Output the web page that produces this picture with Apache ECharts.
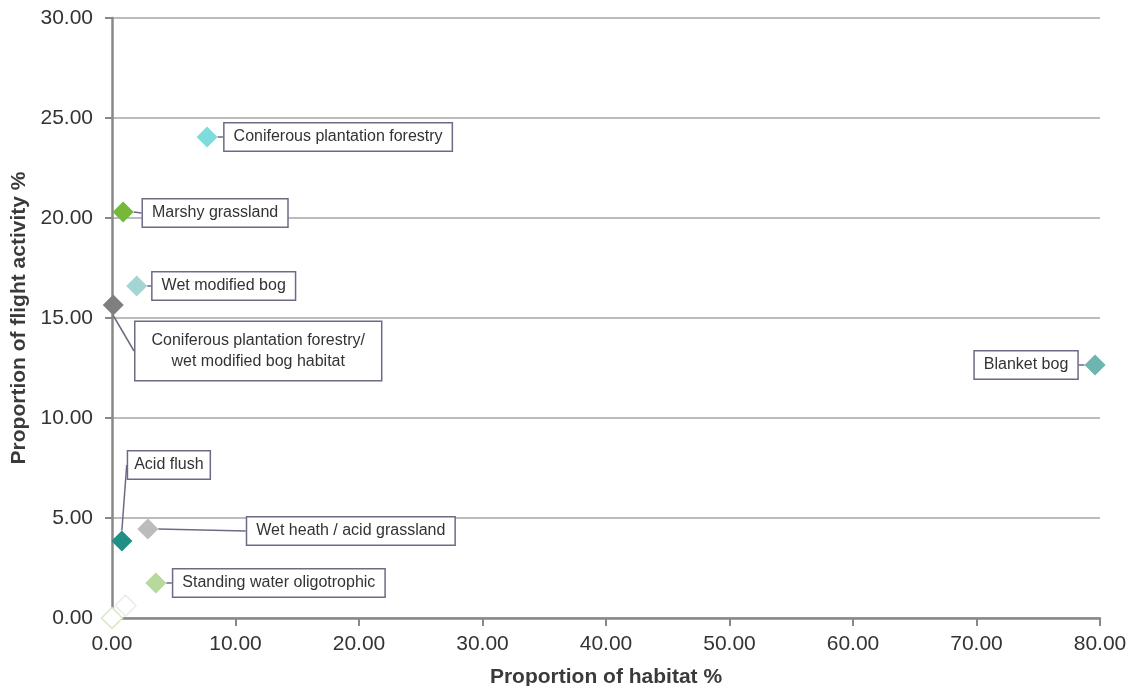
<!DOCTYPE html>
<html>
<head>
<meta charset="utf-8">
<script src="https://cdn.jsdelivr.net/npm/echarts@6/dist/echarts.min.js"></script>
<style>
  html, body { margin: 0; padding: 0; background: #fff; }
  #chart { width: 1135px; height: 686px; }
</style>
</head>
<body>
<div id="chart"></div>
<script>
// Habitat use: share of habitat area vs share of recorded flight activity
const habitats = [
  'Coniferous plantation forestry',
  'Marshy grassland',
  'Wet modified bog',
  'Coniferous plantation forestry/\nwet modified bog habitat',
  'Blanket bog',
  'Acid flush',
  'Wet heath / acid grassland',
  'Standing water oligotrophic',
  '',
  ''
];
const habitatPct = [7.7, 0.9, 2.0, 0.1, 79.6, 0.8, 2.9, 3.55, 1.1, 0.0];
const flightPct  = [24.05, 20.3, 16.6, 15.65, 12.65, 3.85, 4.45, 1.75, 0.62, 0.0];

// marker fill / outline per habitat
const fills   = ['#7fdcdc', '#76b83a', '#a3d6d3', '#7f7f7f', '#6bb6ae', '#1f9086', '#bcbcbc', '#b7d99c', '#ffffff', '#ffffff'];
const borders = [null, null, null, null, null, null, null, null, '#ececec', '#d6e8c8'];

// callout box offset from its marker (px)
const calloutOffset = [
  [131, 0], [92, 1], [87, 0], [145, 46], [-69, 0],
  [47, -76], [203, 2], [123, 0], [0, 0], [0, 0]
];
// callout padding and line height per habitat (two-line box is roomier)
const calloutPadding = [
  [5, 9], [5, 9], [5, 9], [8, 16], [5, 9],
  [5, 6], [5, 9], [5, 9], [5, 9], [5, 9]
];
const calloutLineHeight = [17, 17, 17, 21, 17, 17, 17, 17, 17, 17];

const FONT = '"Liberation Sans", Arial, sans-serif';
const LINE = '#6e6a86';

const points = habitats.map((name, i) => ({
  name: name,
  value: [habitatPct[i], flightPct[i]],
  itemStyle: borders[i]
    ? { color: fills[i], borderColor: borders[i], borderWidth: 1.5, opacity: 1 }
    : { color: fills[i], opacity: 1 },
  label: { show: name !== '', padding: calloutPadding[i], lineHeight: calloutLineHeight[i] }
}));

const chart = echarts.init(document.getElementById('chart'));
chart.setOption({
  animation: false,
  grid: { left: 112, right: 35, top: 18, bottom: 68, containLabel: false, outerBoundsMode: 'none' },
  xAxis: {
    type: 'value', min: 0, max: 80, interval: 10,
    name: 'Proportion of habitat %', nameLocation: 'middle', nameGap: 49,
    nameTextStyle: { fontFamily: FONT, fontSize: 21, fontWeight: 'bold', color: '#3a3a3a' },
    axisLine: { show: true, lineStyle: { color: '#888888', width: 2.5 } },
    axisTick: { show: true, length: 8, lineStyle: { color: '#888888', width: 2 } },
    axisLabel: { margin: 16, fontFamily: FONT, fontSize: 21, color: '#333', formatter: v => v.toFixed(2) },
    splitLine: { show: false }
  },
  yAxis: {
    type: 'value', min: 0, max: 30, interval: 5,
    name: 'Proportion of flight activity %', nameLocation: 'middle', nameGap: 79,
    nameTextStyle: { fontFamily: FONT, fontSize: 21, fontWeight: 'bold', color: '#3a3a3a' },
    axisLine: { show: true, lineStyle: { color: '#888888', width: 2.5 } },
    axisTick: { show: true, length: 7, lineStyle: { color: '#888888', width: 2 } },
    axisLabel: { margin: 19, fontFamily: FONT, fontSize: 21, color: '#333', formatter: v => v.toFixed(2) },
    splitLine: { show: true, lineStyle: { color: '#a6a6a6', width: 1.5 } }
  },
  series: [{
    type: 'scatter',
    symbol: 'diamond',
    symbolSize: 21,
    clip: false,
    z: 5,
    data: points,
    label: {
      position: 'inside',
      formatter: p => p.name,
      fontFamily: FONT,
      fontSize: 16,
      color: '#333',
      align: 'center',
      backgroundColor: '#ffffff',
      borderColor: LINE,
      borderWidth: 1.5
    },
    labelLine: { show: true, lineStyle: { color: LINE, width: 1.5 } },
    labelLayout: p => ({
      dx: calloutOffset[p.dataIndex][0],
      dy: calloutOffset[p.dataIndex][1],
      hideOverlap: false
    }),
    emphasis: { disabled: true }
  }]
});
</script>
</body>
</html>
